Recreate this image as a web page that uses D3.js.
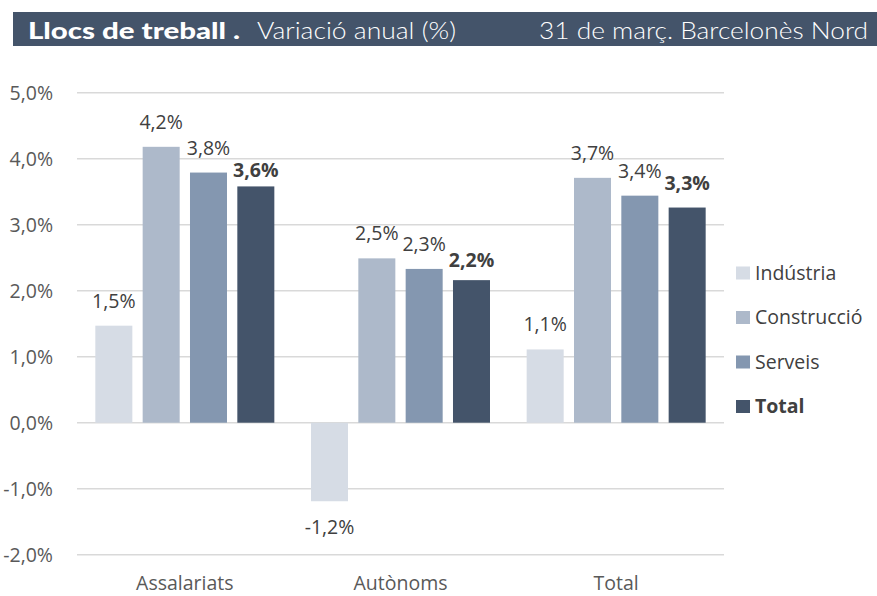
<!DOCTYPE html>
<html>
<head>
<meta charset="utf-8">
<script src="https://cdn.jsdelivr.net/npm/d3@7"></script>
<style>
  html, body { margin: 0; padding: 0; background: #fff; }
  svg { display: block; }
</style>
</head>
<body>
<svg id="chart" width="877" height="596"></svg>
<script>
// ---- data ----
const categories = ["Assalariats", "Autònoms", "Total"];
const seriesNames = ["Indústria", "Construcció", "Serveis", "Total"];
const industria   = [1.47, -1.19, 1.11];
const construccio = [4.18, 2.49, 3.71];
const serveis     = [3.79, 2.33, 3.44];
const total       = [3.58, 2.16, 3.26];
const yTicks = [-2, -1, 0, 1, 2, 3, 4, 5];
const titleBold = "Llocs de treball .";
const titleLight = "Variació anual (%)";
const titleRight = "31 de març. Barcelonès Nord";

// ---- styles ----
const colors = ["#D6DCE5", "#ADB9CA", "#8497B0", "#44546A"];
const seriesValues = [industria, construccio, serveis, total];
const labelNudge = { "Assalariats|Total": 9, "Autònoms|Total": 5 };
const FONT = "'Open Sans', 'Noto Sans', sans-serif";
const HFONT = "Lato, 'Open Sans', sans-serif";

const svg = d3.select("#chart");

// header
svg.append("rect").attr("x", 13).attr("y", 12).attr("width", 864).attr("height", 34).attr("fill", "#44546A");
svg.append("text").attr("x", 28).attr("y", 38.5)
  .attr("font-family", HFONT).attr("font-weight", 900).attr("font-size", 23)
  .attr("fill", "#fff").attr("textLength", 212).attr("lengthAdjust", "spacingAndGlyphs").text(titleBold);
svg.append("text").attr("x", 257).attr("y", 38.5)
  .attr("font-family", HFONT).attr("font-weight", 300).attr("font-size", 23)
  .attr("fill", "#fff").attr("textLength", 199).attr("lengthAdjust", "spacingAndGlyphs").text(titleLight);
svg.append("text").attr("x", 539).attr("y", 38.5)
  .attr("font-family", HFONT).attr("font-weight", 300).attr("font-size", 23)
  .attr("fill", "#fff").attr("textLength", 329).attr("lengthAdjust", "spacingAndGlyphs").text(titleRight);

// scales
const x0 = d3.scaleBand().domain(categories).range([77, 724]).paddingInner(0.17).paddingOuter(0.085);
const x1 = d3.scaleBand().domain(seriesNames).range([0, x0.bandwidth()]).paddingInner(0.218).paddingOuter(0);
const y = d3.scaleLinear().domain([-2, 5]).range([554.7, 92.7]);

const fmt = v => d3.format(".1f")(v).replace("−", "-").replace(".", ",") + "%";

// gridlines
svg.append("g").selectAll("line").data(yTicks).join("line")
  .attr("x1", 77).attr("x2", 724)
  .attr("y1", d => y(d)).attr("y2", d => y(d))
  .attr("stroke", "#D9D9D9").attr("stroke-width", 1.5);

// y axis labels
const yAxis = svg.append("g").attr("transform", "translate(53,0)")
  .call(d3.axisLeft(y).tickValues(yTicks).tickSize(0).tickPadding(0).tickFormat(fmt));
yAxis.select(".domain").remove();
yAxis.selectAll("text").attr("font-family", FONT).attr("font-size", 19.5).attr("fill", "#595959").attr("dy", "0.35em");

// x axis labels
const xAxis = svg.append("g").attr("transform", "translate(0,590)")
  .call(d3.axisBottom(x0).tickSize(0).tickPadding(0));
xAxis.select(".domain").remove();
xAxis.selectAll("text").attr("font-family", FONT).attr("font-size", 19.5).attr("fill", "#595959").attr("dy", 0);

// bars
const rows = [];
categories.forEach((c, ci) => seriesNames.forEach((s, si) => rows.push({ c, s, si, v: seriesValues[si][ci] })));

svg.append("g").selectAll("rect").data(rows).join("rect")
  .attr("x", d => x0(d.c) + x1(d.s))
  .attr("width", x1.bandwidth())
  .attr("y", d => y(Math.max(0, d.v)))
  .attr("height", d => Math.abs(y(d.v) - y(0)))
  .attr("fill", d => colors[d.si]);

// value labels
svg.append("g").selectAll("text").data(rows).join("text")
  .attr("x", d => x0(d.c) + x1(d.s) + x1.bandwidth() / 2)
  .attr("y", d => d.v >= 0 ? y(d.v) - 18 + (labelNudge[d.c + "|" + d.s] || 0) : y(d.v) + 33)
  .attr("text-anchor", "middle")
  .attr("font-family", FONT).attr("font-size", 19.5)
  .attr("font-weight", d => d.s === "Total" ? 700 : 400)
  .attr("fill", "#404040")
  .text(d => fmt(d.v));

// legend
const lg = svg.append("g").selectAll("g").data(seriesNames).join("g")
  .attr("transform", (d, i) => `translate(736, ${273 + i * 44.5})`);
lg.append("rect").attr("x", 0).attr("y", -6.5).attr("width", 14).attr("height", 13).attr("fill", (d, i) => colors[i]);
lg.append("text").attr("x", 19).attr("y", 0).attr("dy", "0.35em")
  .attr("font-family", FONT).attr("font-size", 19.5)
  .attr("font-weight", d => d === "Total" ? 700 : 400)
  .attr("fill", "#404040").text(d => d);
</script>
</body>
</html>
